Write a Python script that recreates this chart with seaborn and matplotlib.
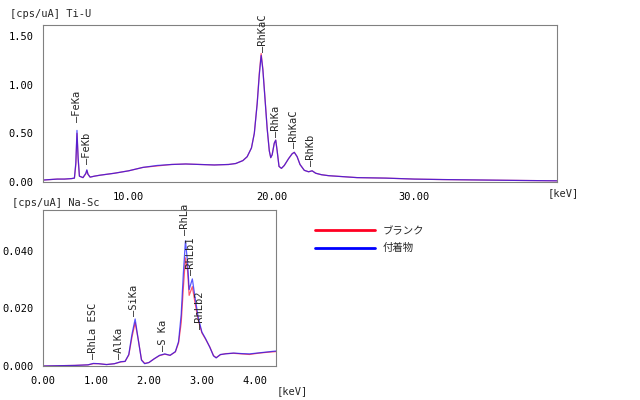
import matplotlib
matplotlib.use("Agg")
import matplotlib.pyplot as plt
from matplotlib.ticker import FormatStrFormatter, MultipleLocator, FixedLocator
import seaborn as sns
import pandas as pd

# ---------------- data: Ti-U range (keV, cps/uA) ----------------
top_energy = [4.0, 4.5, 5.0, 5.5, 6.0, 6.2, 6.3, 6.38, 6.46, 6.55, 6.8, 7.0, 7.07, 7.15, 7.3,
              7.6, 8.0, 9.0, 10.0, 11.0, 12.0, 13.0, 14.0, 15.0, 16.0, 17.0, 17.5, 18.0, 18.3,
              18.6, 18.8, 19.0, 19.15, 19.28, 19.4, 19.55, 19.7, 19.85, 19.95, 20.05, 20.2, 20.3,
              20.4, 20.53, 20.7, 20.9, 21.2, 21.45, 21.6, 21.8, 22.0, 22.3, 22.6, 22.85, 23.1,
              23.5, 24.0, 25.0, 26.0, 28.0, 30.0, 32.0, 35.0, 38.0, 40.0]
top_blank = [0.02, 0.025, 0.03, 0.03, 0.035, 0.04, 0.18, 0.50, 0.24, 0.06, 0.045, 0.085, 0.12, 0.08, 0.05,
             0.06, 0.07, 0.09, 0.115, 0.15, 0.165, 0.18, 0.185, 0.18, 0.175, 0.18, 0.19, 0.22, 0.26,
             0.35, 0.50, 0.81, 1.12, 1.32, 1.16, 0.86, 0.55, 0.32, 0.25, 0.28, 0.40, 0.43,
             0.32, 0.16, 0.14, 0.17, 0.24, 0.29, 0.305, 0.26, 0.18, 0.12, 0.105, 0.115, 0.09,
             0.075, 0.065, 0.055, 0.045, 0.04, 0.03, 0.025, 0.02, 0.015, 0.012]
top_sample = [0.02, 0.025, 0.03, 0.03, 0.035, 0.04, 0.20, 0.53, 0.25, 0.06, 0.045, 0.09, 0.125, 0.08, 0.05,
              0.06, 0.07, 0.09, 0.115, 0.15, 0.17, 0.18, 0.185, 0.18, 0.175, 0.18, 0.19, 0.22, 0.26,
              0.35, 0.50, 0.80, 1.10, 1.30, 1.15, 0.85, 0.55, 0.32, 0.25, 0.28, 0.40, 0.43,
              0.32, 0.16, 0.14, 0.17, 0.24, 0.29, 0.305, 0.26, 0.18, 0.12, 0.105, 0.115, 0.09,
              0.075, 0.065, 0.055, 0.045, 0.04, 0.03, 0.025, 0.02, 0.015, 0.012]

# ---------------- data: Na-Sc range ----------------
bot_energy = [0.0, 0.3, 0.6, 0.85, 0.95, 1.05, 1.2, 1.35, 1.47, 1.55, 1.62, 1.68, 1.74, 1.80, 1.86,
              1.92, 2.0, 2.1, 2.2, 2.3, 2.4, 2.5, 2.56, 2.61, 2.65, 2.69, 2.73, 2.76, 2.82, 2.87,
              2.93, 3.0, 3.07, 3.15, 3.22, 3.27, 3.35, 3.45, 3.6, 3.75, 3.9, 4.05, 4.2, 4.4]
bot_blank = [0.0, 0.0001, 0.0002, 0.0004, 0.0008, 0.0008, 0.0005, 0.0008, 0.0014, 0.0016, 0.0038, 0.010, 0.0150, 0.0090, 0.0022,
             0.0009, 0.0012, 0.0025, 0.0036, 0.0041, 0.0037, 0.0049, 0.0080, 0.0150, 0.0270, 0.0375, 0.0330, 0.0245, 0.0275, 0.0220,
             0.0160, 0.0115, 0.0093, 0.0066, 0.0036, 0.0029, 0.0039, 0.0043, 0.0044, 0.0042, 0.0040, 0.0044, 0.0047, 0.0050]
bot_sample = [0.0, 0.0001, 0.0002, 0.0004, 0.0009, 0.0008, 0.0005, 0.0008, 0.0015, 0.0016, 0.0040, 0.011, 0.0163, 0.0090, 0.0020,
              0.0008, 0.0012, 0.0025, 0.0037, 0.0042, 0.0037, 0.0050, 0.0085, 0.0180, 0.0320, 0.0434, 0.0360, 0.0265, 0.0302, 0.0240,
              0.0170, 0.0118, 0.0095, 0.0065, 0.0035, 0.0028, 0.0040, 0.0042, 0.0045, 0.0043, 0.0042, 0.0045, 0.0048, 0.0052]

series_names = ["ブランク", "付着物"]
series_colors = ["#ff0022", "#0000ff"]

# peak labels: (text, energy, height of label base)
top_labels = ["FeKa", "FeKb", "RhKaC", "RhKa", "RhKaC", "RhKb"]
top_label_x = [6.4, 7.1, 19.4, 20.3, 21.6, 22.8]
top_label_y = [0.62, 0.18, 1.34, 0.46, 0.35, 0.165]
bot_labels = ["RhLa ESC", "AlKa", "SiKa", "S Ka", "RhLa", "RhLb1", "RhLb2"]
bot_label_x = [0.95, 1.43, 1.72, 2.27, 2.68, 2.80, 2.96]
bot_label_y = [0.0024, 0.0024, 0.0173, 0.0053, 0.0455, 0.0317, 0.0128]

top_xticks = [10, 20, 30]
bot_xticks = [0, 1, 2, 3, 4]

# ---------------- figure ----------------
sns.set_style("white")
plt.rcParams["font.family"] = ["DejaVu Sans Mono", "Noto Sans CJK JP"]
FS = 7.5

fig = plt.figure(figsize=(6.4, 4.0), dpi=100)
ax1 = fig.add_axes([43 / 640, 1 - 182 / 400, 514 / 640, 157 / 400])
ax2 = fig.add_axes([43 / 640, 1 - 366 / 400, 233 / 640, 156 / 400])


def long_df(energy, blank, sample):
    rows = []
    for name, vals in zip(series_names, [blank, sample]):
        for e, v in zip(energy, vals):
            rows.append({"E": e, "I": v, "series": name})
    return pd.DataFrame(rows)


palette = dict(zip(series_names, series_colors))
df_top = long_df(top_energy, top_blank, top_sample)
df_bot = long_df(bot_energy, bot_blank, bot_sample)

for ax, df in [(ax1, df_top), (ax2, df_bot)]:
    sns.lineplot(data=df, x="E", y="I", hue="series", palette=palette, ax=ax,
                 estimator=None, sort=False, legend=False, linewidth=0.9, alpha=0.65)
    ax.set_xlabel("")
    ax.set_ylabel("")
    for s in ax.spines.values():
        s.set_color("#808080")
        s.set_linewidth(0.8)
    ax.tick_params(direction="out", length=4, width=0.8, color="#808080",
                   labelsize=FS, pad=3, labelcolor="black")
    ax.tick_params(which="minor", direction="out", length=2, width=0.8, color="#808080")

ax1.set_xlim(4, 40)
ax1.set_ylim(0, 1.613)
ax1.xaxis.set_major_locator(FixedLocator(top_xticks))
ax1.xaxis.set_minor_locator(MultipleLocator(5))
ax1.yaxis.set_major_locator(MultipleLocator(0.5))
ax1.xaxis.set_major_formatter(FormatStrFormatter("%.2f"))
ax1.yaxis.set_major_formatter(FormatStrFormatter("%.2f"))

ax2.set_xlim(0, 4.4)
ax2.set_ylim(0, 0.0541)
ax2.xaxis.set_major_locator(FixedLocator(bot_xticks))
ax2.xaxis.set_minor_locator(MultipleLocator(0.5))
ax2.yaxis.set_major_locator(MultipleLocator(0.02))
ax2.xaxis.set_major_formatter(FormatStrFormatter("%.2f"))
ax2.yaxis.set_major_formatter(FormatStrFormatter("%.3f"))

for ax, labs, xs, ys in [(ax1, top_labels, top_label_x, top_label_y),
                         (ax2, bot_labels, bot_label_x, bot_label_y)]:
    for t, x, y in zip(labs, xs, ys):
        ax.text(x, y, "—" + t, rotation=90, ha="center", va="bottom", fontsize=FS)

fig.text(10 / 640, 1 - 14 / 400, "[cps/uA] Ti-U", fontsize=FS, va="center", ha="left")
fig.text(12 / 640, 1 - 203 / 400, "[cps/uA] Na-Sc", fontsize=FS, va="center", ha="left")
fig.text(548 / 640, 1 - 193 / 400, "[keV]", fontsize=FS, va="center", ha="left")
fig.text(277 / 640, 1 - 391 / 400, "[keV]", fontsize=FS, va="center", ha="left")

handles = [plt.Line2D([], [], color=c, lw=2) for c in series_colors]
fig.legend(handles, series_names, loc="upper left",
           bbox_to_anchor=(315 / 640, 1 - 226 / 400), frameon=False, fontsize=FS,
           handlelength=5.8, handletextpad=0.65, labelspacing=0.7, borderpad=0,
           borderaxespad=0)

fig.savefig("out.png", dpi=100)
